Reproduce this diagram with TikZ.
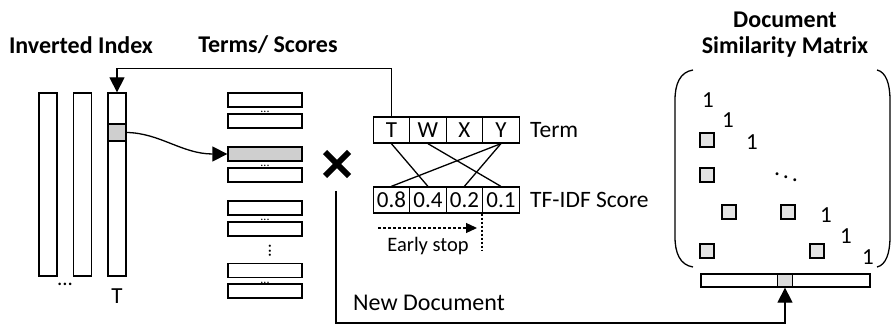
\documentclass[tikz,border=0pt]{standalone}
\usepackage{fontspec}
\setmainfont{Carlito}
\usetikzlibrary{arrows.meta}
\tikzset{
  box/.style={draw, line width=1.3pt, inner sep=0pt, fill=white},
  gbox/.style={box, fill=gray!38},
  mbox/.style={draw, line width=1.3pt, fill=gray!22, minimum size=14pt, inner sep=0pt},
  cell/.style={box, minimum width=36.5pt, minimum height=26pt, anchor=west, font=\fontsize{23}{23}\selectfont},
  bar/.style={box, minimum width=74pt, minimum height=14pt},
  col/.style={box, minimum width=18pt, minimum height=183pt},
  ttl/.style={font=\fontsize{24}{24}\selectfont\bfseries},
  lbl/.style={font=\fontsize{23.5}{23.5}\selectfont, inner sep=0pt},
  one/.style={font=\fontsize{23}{23}\selectfont, inner sep=0pt},
  smalldots/.style={font=\fontsize{12}{12}\selectfont, inner sep=0pt, anchor=base},
  conn/.style={line width=1.3pt},
  arr/.style={conn, -{Triangle[length=15pt,width=15pt]}},
}
\begin{document}
\begin{tikzpicture}[x=1pt,y=-1pt]
\useasboundingbox (0,0) rectangle (892,326);

% titles
\node[ttl] (t1) at (81,45) {Inverted Index};
\node[ttl] (t2) at (268,45) {Terms/ Scores};
\node[ttl] (t3) at (785,20) {Document};
\node[ttl] (t4) at (785,47) {Similarity Matrix};

% inverted index
\node[col] (c1) at (48,184.5) {};
\node[col] (c2) at (82.5,184.5) {};
\node[col] (c3) at (117,184.5) {};
\node[gbox, minimum width=18pt, minimum height=17pt] (cg) at (117,132.5) {};
\node[font=\fontsize{21}{21}\selectfont, inner sep=0pt] (idots) at (65,284) {...};
\node[font=\fontsize{23}{23}\selectfont, inner sep=0pt] (iT) at (117,296) {T};

% term/score bars
\node[bar] (b1) at (265,100) {};
\node[bar] (b2) at (265,121) {};
\node[bar, fill=gray!38] (b3) at (265,154) {};
\node[bar] (b4) at (265,175) {};
\node[bar] (b5) at (265,208) {};
\node[bar] (b6) at (265,229) {};
\node[bar] (b7) at (265,270.5) {};
\node[bar] (b8) at (265,291) {};
\node[smalldots] (d1) at (265,112.5) {...};
\node[smalldots] (d2) at (265,166.5) {...};
\node[smalldots] (d3) at (265,220.5) {...};
\node[smalldots] (d4) at (265,283.5) {...};
\node[font=\fontsize{18}{18}\selectfont, inner sep=0pt, rotate=90] (vd) at (270,251) {...};

\draw[arr] (cg.east) .. controls (160,133) and (182,154) .. (b3.west);

% multiply mark
\draw[line width=6pt] (325,152) -- (349,176) (349,152) -- (325,176);

% term row
\node[cell] (tT) at (372.5,130) {T};
\node[cell] (tW) at (409,130) {W};
\node[cell] (tX) at (445.5,130) {X};
\node[cell] (tY) at (482,130) {Y};
\node[lbl, anchor=west] (lterm) at (530,130) {Term};

% score row
\node[cell] (s08) at (372.5,200) {0.8};
\node[cell] (s04) at (409,200) {0.4};
\node[cell] (s02) at (445.5,200) {0.2};
\node[cell] (s01) at (482,200) {0.1};
\node[lbl, anchor=west] (lscore) at (530,200) {TF-IDF Score};

\draw[conn] (tT.south) -- (s04.north);
\draw[conn] (tW.south) -- (s01.north);
\draw[conn] (tY.south) -- (s08.north);
\draw[conn] (tY.south) -- (s02.north);

% early stop
\coordinate (es1) at (378,228);
\coordinate (es2) at (477,228);
\coordinate (es3) at (482,251);
\draw[conn, dash pattern=on 3pt off 2pt, -{Triangle[length=11pt,width=10pt]}] (es1) -- (es2);
\draw[conn, dash pattern=on 2pt off 2pt] (s01.south west) -- (es3);
\node[font=\fontsize{20.5}{20.5}\selectfont, inner sep=0pt] (lstop) at (428,246) {Early stop};

% feedback arrow to inverted index
\draw[arr] (tT.north) -- ++(0,-48) -| (c3.north);

% matrix
\draw[conn] (693,70) .. controls (680,72) and (675,84) .. (675,100) -- (675,237) .. controls (675,253) and (680,265) .. (693,267);
\draw[conn] (877,70) .. controls (886,72) and (890,84) .. (890,100) -- (890,237) .. controls (890,253) and (886,265) .. (877,267);
\node[one] (m1) at (708,100) {1};
\node[one] (m2) at (728,120) {1};
\node[one] (m3) at (752,142) {1};
\node[one] (m4) at (826,215) {1};
\node[one] (m5) at (846,236) {1};
\node[one] (m6) at (868,257) {1};
\node[font=\fontsize{24}{24}\selectfont, inner sep=0pt] (mdd) at (786,174) {$\ddots$};
\node[mbox] (q1) at (707,140) {};
\node[mbox] (q2) at (707,175) {};
\node[mbox] (q3) at (729,212) {};
\node[mbox] (q4) at (788,212) {};
\node[mbox] (q5) at (707,251) {};
\node[mbox] (q6) at (817,251) {};

% new document
\node[box, minimum width=169pt, minimum height=13pt] (nd) at (785.5,280.5) {};
\node[box, fill=gray!28, minimum width=15pt, minimum height=13pt] (ndc) at (785,280.5) {};
\coordinate (ndstart) at (336,191);
\coordinate (ndcorner) at (336,323);
\draw[arr] (ndstart) -- (ndcorner) -| (ndc.south);
\node[font=\fontsize{24}{24}\selectfont, inner sep=0pt, anchor=west] (lnd) at (353,303) {New Document};
\end{tikzpicture}
\end{document}
